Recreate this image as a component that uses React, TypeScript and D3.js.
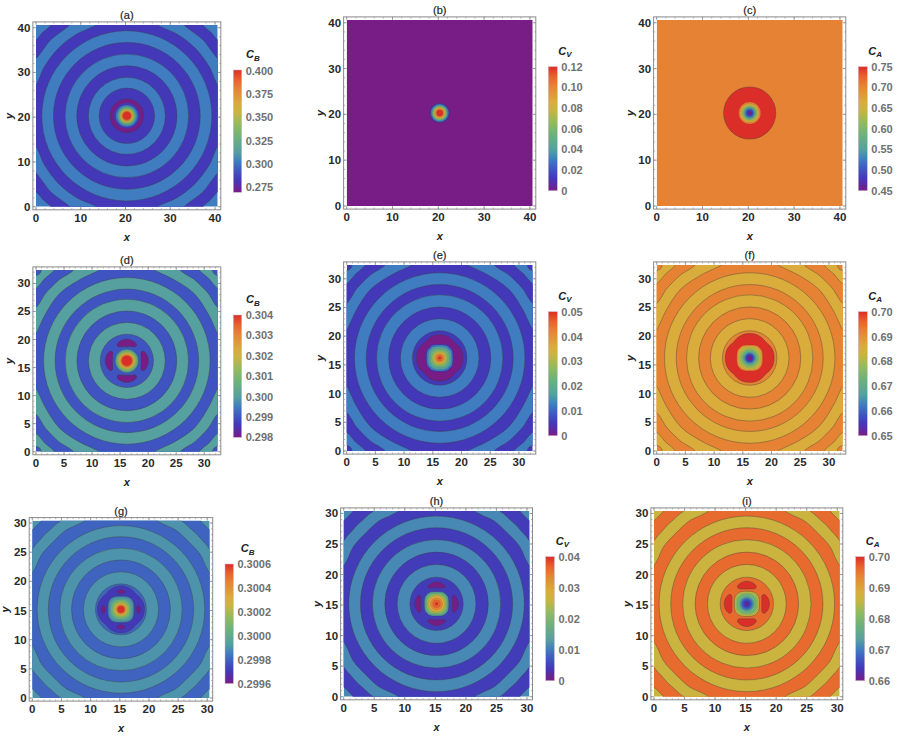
import React from "react";
import * as d3 from "d3";

type Pt = [number, number];
type Shape = number | Pt[];
type Layer = [number, Shape];

// Rainbow colour stops
const rainbowStops: [number, string][] = [
  [0, "#781C86"], [0.1, "#4338B8"], [0.17, "#3F55C0"], [0.25, "#3F7CC0"], [0.33, "#55A0A0"],
  [0.45, "#6DB17C"], [0.55, "#90BB5F"], [0.65, "#C8B540"], [0.72, "#D9AC3B"], [0.85, "#E68233"],
  [0.92, "#E8622E"], [1, "#DB2E28"],
];

// Outer contours per row, data units from the centre (one octant, axis to diagonal)
const outerRow1: Shape[] = [
  [[23, 0], [23, 16.8], [20.5, 16.9], [19.6, 17.7], [18.74, 18.74]],
  [[23, 0], [23, 12.6], [20.5, 12.7], [19.3, 14.0], [17, 17]],
  [[23, 0], [23, 6.5], [20.5, 6.7], [19.6, 8.3], [18.4, 11], [15.2, 15.2]],
  19.0, 16.4, 13.8, 11.2, 8.6, 6.2,
];
const outerRow2: Shape[] = [
  [[20, 0], [20, 15.1], [16.4, 15.2], [15.55, 15.55]],
  [[20, 0], [20, 12.7], [16.4, 12.85], [15.6, 13.5], [14.65, 14.65]],
  [[20, 0], [20, 9.3], [16.4, 9.4], [15.5, 10.4], [14.6, 11.9], [13.3, 13.3]],
  [[18, 0], [18, 4.6], [16.4, 4.75], [15.6, 6.1], [14.6, 8.2], [12, 12]],
  14.85, 12.8, 11.0, 8.9, 6.85, 4.75,
];
const outerRow3: Shape[] = [
  [[17.5, 0], [17.5, 13.4], [15.4, 13.55], [14.4, 14.4]],
  [[17.5, 0], [17.5, 10.1], [15.4, 10.2], [14.7, 11], [13.7, 12.1], [12.95, 12.95]],
  [[17, 0], [17, 6], [15.4, 6.1], [14.6, 7.3], [13.6, 9.4], [11.6, 11.6]],
  14.37, 12.46, 10.5, 8.47, 6.45, 4.37,
];

// Inner contours per panel: [value, shape]
const innerA: Layer[] = [
  [0.2695, 3.75], [0.2827, 2.9], [0.3024, 2.45], [0.3129, 2.15], [0.3287, 1.9], [0.3418, 1.7],
  [0.355, 1.5], [0.3642, 1.3], [0.3813, 1.15], [0.39, 1.0], [0.401, 0.85],
];
const innerB: Layer[] = [
  [0.012, 2.15], [0.03, 1.95], [0.048, 1.7], [0.066, 1.5], [0.0864, 1.25], [0.102, 1.0], [0.12, 0.7],
];
const innerC: Layer[] = [
  [0.75, 5.7], [0.705, 2.4], [0.666, 2.1], [0.645, 1.85], [0.615, 1.6], [0.585, 1.4], [0.549, 1.2],
  [0.525, 1.0], [0.501, 0.8], [0.48, 0.6], [0.45, 0.35],
];
const innerD: Layer[] = [
  [0.3, 2.1], [0.3007, 1.9], [0.3013, 1.7], [0.3019, 1.5], [0.3023, 1.35], [0.3031, 1.15], [0.30352, 1.0], [0.304, 0.88],
];
const innerE: Layer[] = [
  [0, [[4.05, 0], [3.85, 1.2], [3.3, 2.1], [2.65, 2.65]]],
  [0.005, [[2.4, 0], [2.38, 0.8], [2.2, 1.5], [1.85, 1.85]]],
  [0.0125, [[2.25, 0], [2.22, 0.75], [2.05, 1.4], [1.72, 1.72]]],
  [0.0165, [[2.0, 0], [1.97, 0.7], [1.8, 1.25], [1.5, 1.5]]],
  [0.0225, [[1.65, 0], [1.6, 0.7], [1.25, 1.25]]],
  [0.0275, 1.4], [0.0325, 1.15], [0.036, 0.95], [0.0425, 0.75], [0.046, 0.5], [0.05, 0.22],
];
const innerF: Layer[] = [
  [0.7, [[4.25, 0], [4.05, 1.25], [3.45, 2.2], [2.8, 2.8]]],
  [0.6925, [[2.25, 0], [2.22, 0.8], [2.05, 1.4], [1.75, 1.75]]],
  [0.686, [[2.1, 0], [2.07, 0.75], [1.9, 1.3], [1.6, 1.6]]],
  [0.6825, [[1.9, 0], [1.87, 0.7], [1.7, 1.15], [1.42, 1.42]]],
  [0.6775, [[1.65, 0], [1.6, 0.7], [1.22, 1.22]]],
  [0.6725, 1.4], [0.6665, 1.1], [0.6625, 0.9], [0.6585, 0.75], [0.655, 0.6], [0.65, 0.4],
];
const innerG: Layer[] = [
  [0.2997, [[4.05, 0], [3.85, 1.1], [3.25, 2.05], [2.6, 2.6]]],
  [0.2998, [[2.3, 0], [2.28, 0.8], [2.12, 1.45], [1.85, 1.85]]],
  [0.2999, [[2.15, 0], [2.12, 0.75], [1.98, 1.35], [1.7, 1.7]]],
  [0.29993, [[1.95, 0], [1.92, 0.7], [1.78, 1.2], [1.5, 1.5]]],
  [0.30005, [[1.7, 0], [1.65, 0.7], [1.28, 1.28]]],
  [0.30015, 1.45], [0.30025, 1.2], [0.30032, 1.0], [0.30045, 0.8], [0.30052, 0.68], [0.3006, 0.55],
];
const innerH: Layer[] = [
  [0.0132, [[2.0, 0], [1.97, 0.7], [1.82, 1.25], [1.55, 1.55]]],
  [0.018, [[1.8, 0], [1.77, 0.65], [1.62, 1.1], [1.38, 1.38]]],
  [0.022, [[1.6, 0], [1.55, 0.7], [1.2, 1.2]]],
  [0.026, 1.45], [0.0288, 1.3], [0.034, 1.0], [0.0368, 0.65], [0.04, 0.25],
];
const innerI: Layer[] = [
  [0.6864, [[2.05, 0], [2.02, 0.7], [1.86, 1.28], [1.6, 1.6]]],
  [0.682, [[1.8, 0], [1.77, 0.65], [1.64, 1.12], [1.42, 1.42]]],
  [0.678, [[1.55, 0], [1.5, 0.7], [1.18, 1.18]]],
  [0.6732, 1.2], [0.67, 1.0], [0.6668, 0.8], [0.664, 0.55], [0.66, 0.22],
];

// One half of the right-hand lobe; it is mirrored and rotated to the four sides
const lobeD: Pt[] = [[3.86, 0], [3.6, 1.05], [2.95, 1.75], [2.55, 1.6], [2.55, 0.7], [2.55, 0]];
const lobeG: Pt[] = [[3.4, 0], [3.25, 0.45], [3.05, 0.7], [2.8, 0.5], [2.7, 0]];
const lobeH: Pt[] = [[3.6, 0], [3.35, 0.85], [2.85, 1.45], [2.62, 1.3], [2.62, 0.6], [2.62, 0]];
const lobeI: Pt[] = [[3.7, 0], [3.45, 0.95], [2.85, 1.55], [2.5, 1.35], [2.45, 0.6], [2.45, 0]];

const titles = ["(a)", "(b)", "(c)", "(d)", "(e)", "(f)", "(g)", "(h)", "(i)"];
const barTitles = ["B", "V", "A", "B", "V", "A", "B", "V", "A"];
const barDomains: Pt[] = [
  [0.2695, 0.401], [0, 0.12], [0.45, 0.75], [0.298, 0.304], [0, 0.05], [0.65, 0.7],
  [0.2996, 0.3006], [0, 0.04], [0.66, 0.7],
];
const barTicks: number[][] = [
  [0.275, 0.3, 0.325, 0.35, 0.375, 0.4],
  [0, 0.02, 0.04, 0.06, 0.08, 0.1, 0.12],
  [0.45, 0.5, 0.55, 0.6, 0.65, 0.7, 0.75],
  [0.298, 0.299, 0.3, 0.301, 0.302, 0.303, 0.304],
  [0, 0.01, 0.02, 0.03, 0.04, 0.05],
  [0.65, 0.66, 0.67, 0.68, 0.69, 0.7],
  [0.2996, 0.2998, 0.3, 0.3002, 0.3004, 0.3006],
  [0, 0.01, 0.02, 0.03, 0.04],
  [0.66, 0.67, 0.68, 0.69, 0.7],
];
const barDigits = [3, 2, 2, 3, 2, 2, 4, 2, 2];
const extents = [40.6, 40.6, 40.6, 32.4, 32.4, 32.4, 30.4, 30.4, 30.4];
const majorSteps = [10, 10, 10, 5, 5, 5, 5, 5, 5];
const minorSteps = [2, 2, 2, 1, 1, 1, 1, 1, 1];
// Value of [background, first alternate, second alternate] band
const bandValues: [number, number, number][] = [
  [0.3024, 0.2827, 0.3024],
  [0, 0, 0],
  [0.705, 0.705, 0.705],
  [0.299, 0.3, 0.299],
  [0.005, 0.0125, 0.005],
  [0.6925, 0.686, 0.6925],
  [0.2999, 0.2998, 0.2999],
  [0.0112, 0.0044, 0.0112],
  [0.6864, 0.696, 0.6864],
];
const outerShapes = [outerRow1, [], [], outerRow2, outerRow2, outerRow2, outerRow3, outerRow3, outerRow3];
const innerLayers = [innerA, innerB, innerC, innerD, innerE, innerF, innerG, innerH, innerI];
const lobes: (Pt[] | null)[] = [null, null, null, lobeD, null, null, lobeG, lobeH, lobeI];
const lobeValues = [0, 0, 0, 0.298, 0, 0, 0.2996, 0, 0.7];
// How many inner layers lie beneath the lobes
const lobeDepth = [0, 0, 0, 0, 0, 0, 1, 0, 0];

// Layout in page pixels: plot left, top, size; colour bar left, top, height, width
const plotBoxes = [
  [36, 25, 181.7], [346.7, 20, 186], [656.7, 20, 186],
  [36, 270, 181.7], [346.7, 265, 186], [656.7, 265, 186],
  [32.3, 520.7, 177.3], [343.7, 511, 185.7], [654, 511, 185.7],
];
const barBoxes = [
  [233.3, 70, 122.3, 8.4], [548.3, 66.7, 124, 9], [858.3, 66.7, 124, 9],
  [233.3, 315, 122.3, 8.4], [548.3, 311.7, 124, 9], [858.3, 311.7, 124, 9],
  [225, 564, 119.5, 8.4], [545.7, 556.7, 124, 8.7], [855.7, 556.7, 124, 9],
];
const barTitleOffsets = [12.7, 10, 10, 12.7, 10, 10, 15.7, 10, 10];

const sansFont = "'Liberation Sans', Arial, sans-serif";

function octantRing(pts: Pt[]): Pt[] {
  const swapped = pts.slice(0, -1).reverse().filter((p) => p[1] !== 0).map((p) => [p[1], p[0]] as Pt);
  const quarter = [...pts, ...swapped];
  const out: Pt[] = [];
  for (const [rx, ry] of [[1, 0], [0, 1], [-1, 0], [0, -1]]) {
    for (const [x, y] of quarter) out.push([x * rx - y * ry, x * ry + y * rx]);
  }
  return out;
}

function lobeRing(half: Pt[]): Pt[] {
  const mirrored = half.slice(1, -1).reverse().map((p) => [p[0], -p[1]] as Pt);
  return [...half, ...mirrored];
}

function Panel({ i }: { i: number }) {
  const [left, top, size] = plotBoxes[i];
  const extent = extents[i];
  const center = extent / 2;
  const x = d3.scaleLinear().domain([0, extent]).range([left, left + size]);
  const y = d3.scaleLinear().domain([0, extent]).range([top + size, top]);
  const pad = 3.1;
  const frame = { l: left - pad, r: left + size + pad, t: top - pad, b: top + size + pad };

  const dom = barDomains[i];
  const tOf = d3.scaleLinear().domain(dom).range([0, 1]);
  const colorOfT = d3
    .scaleLinear<string>()
    .domain(rainbowStops.map((s) => s[0]))
    .range(rainbowStops.map((s) => s[1]));
  const color = (v: number) => colorOfT(tOf(v));

  const line = d3
    .line<Pt>()
    .x((p) => x(center + p[0]))
    .y((p) => y(center + p[1]))
    .curve(d3.curveCatmullRomClosed.alpha(0.5));

  const outerStroke = { stroke: "#3c3c3c", strokeOpacity: 0.55, strokeWidth: 0.7 };
  const innerStroke = { stroke: "#3c3c3c", strokeOpacity: 0.25, strokeWidth: 0.45 };

  const drawShape = (value: number, shape: Shape, key: string, style: object) =>
    typeof shape === "number" ? (
      <circle key={key} cx={x(center)} cy={y(center)} r={x(shape) - x(0)} fill={color(value)} {...style} />
    ) : (
      <path key={key} d={line(octantRing(shape)) as string} fill={color(value)} {...style} />
    );

  const [bg, alt1, alt2] = bandValues[i];
  const outer = outerShapes[i];
  const major = d3.range(0, extent + 0.001, majorSteps[i]);
  const minor = d3.range(0, extent + 0.001, minorSteps[i]);
  const lobe = lobes[i];
  const depth = lobeDepth[i];
  const [bl, bt, bh, bw] = barBoxes[i];
  const barY = d3.scaleLinear().domain(dom).range([bt + bh, bt]);
  const fmt = d3.format(`.${barDigits[i]}f`);
  const clipId = `clip-${i}`;
  const gradId = `grad-${i}`;
  const tickColor = "#8a8a8a";
  const layerStyle = (k: number) => (k === 0 ? outerStroke : innerStroke);

  return (
    <g>
      <defs>
        <clipPath id={clipId}>
          <rect x={left} y={top} width={size} height={size} />
        </clipPath>
        <linearGradient id={gradId} x1="0" y1="1" x2="0" y2="0">
          {rainbowStops.map((s) => (
            <stop key={s[0]} offset={s[0]} stopColor={s[1]} />
          ))}
        </linearGradient>
      </defs>
      <g clipPath={`url(#${clipId})`}>
        <rect x={left} y={top} width={size} height={size} fill={color(bg)} />
        {outer.map((shape, k) => drawShape(k % 2 === 0 ? alt1 : alt2, shape, `o${k}`, outerStroke))}
        {innerLayers[i].slice(0, depth).map((l, k) => drawShape(l[0], l[1], `u${k}`, outerStroke))}
        {lobe &&
          [0, 90, 180, 270].map((a) => (
            <path
              key={a}
              d={line(lobeRing(lobe)) as string}
              fill={color(lobeValues[i])}
              {...outerStroke}
              transform={`rotate(${a} ${x(center)} ${y(center)})`}
            />
          ))}
        {innerLayers[i].slice(depth).map((l, k) => drawShape(l[0], l[1], `i${k}`, layerStyle(k)))}
      </g>
      <rect x={frame.l} y={frame.t} width={frame.r - frame.l} height={frame.b - frame.t} fill="none" stroke={tickColor} strokeWidth={1} />
      {minor.map((v) => (
        <g key={`m${v}`} stroke={tickColor} strokeWidth={0.6}>
          <line x1={x(v)} x2={x(v)} y1={frame.b} y2={frame.b - 1.6} />
          <line x1={x(v)} x2={x(v)} y1={frame.t} y2={frame.t + 1.6} />
          <line y1={y(v)} y2={y(v)} x1={frame.l} x2={frame.l + 1.6} />
          <line y1={y(v)} y2={y(v)} x1={frame.r} x2={frame.r - 1.6} />
        </g>
      ))}
      {major.map((v) => (
        <g key={`M${v}`}>
          <g stroke={tickColor} strokeWidth={0.8}>
            <line x1={x(v)} x2={x(v)} y1={frame.b} y2={frame.b - 3} />
            <line x1={x(v)} x2={x(v)} y1={frame.t} y2={frame.t + 3} />
            <line y1={y(v)} y2={y(v)} x1={frame.l} x2={frame.l + 3} />
            <line y1={y(v)} y2={y(v)} x1={frame.r} x2={frame.r - 3} />
          </g>
          <text x={x(v)} y={frame.b + 12} textAnchor="middle" fontFamily={sansFont} fontWeight="bold" fontSize={11.5} fill="#2a2a2a">
            {v}
          </text>
          <text x={frame.l - 2.5} y={y(v) + 4} textAnchor="end" fontFamily={sansFont} fontWeight="bold" fontSize={11.5} fill="#2a2a2a">
            {v}
          </text>
        </g>
      ))}
      <text x={x(center)} y={frame.t - 2.5} textAnchor="middle" fontFamily={sansFont} fontSize={11} fill="#222" stroke="#222" strokeWidth={0.2}>
        {titles[i]}
      </text>
      <text x={x(center)} y={frame.b + 31} textAnchor="middle" fontFamily={sansFont} fontWeight="bold" fontStyle="italic" fontSize={11} fill="#222">
        x
      </text>
      <text
        transform={`translate(${frame.l - 20} ${y(center)}) rotate(-90)`}
        textAnchor="middle"
        fontFamily={sansFont}
        fontWeight="bold"
        fontStyle="italic"
        fontSize={11}
        fill="#222"
      >
        y
      </text>
      <rect x={bl} y={bt} width={bw} height={bh} fill={`url(#${gradId})`} stroke="#c9b6c9" strokeWidth={0.5} />
      {barTicks[i].map((v) => (
        <text key={v} x={bl + bw + 4} y={barY(v) + 4} fontFamily={sansFont} fontWeight="bold" fontSize={11} fill="#707070">
          {v === 0 ? "0" : fmt(v)}
        </text>
      ))}
      <text x={bl + barTitleOffsets[i]} y={bt - 12} fontFamily={sansFont} fontWeight="bold" fontStyle="italic" fontSize={11} fill="#222">
        C
        <tspan dy={2.5} fontSize={8}>
          {barTitles[i]}
        </tspan>
      </text>
    </g>
  );
}

export default function App() {
  return (
    <svg width={901} height={737} viewBox="0 0 901 737" style={{ position: "absolute", left: 0, top: 0, display: "block", background: "#fff" }}>
      {titles.map((_, i) => (
        <Panel key={i} i={i} />
      ))}
    </svg>
  );
}
